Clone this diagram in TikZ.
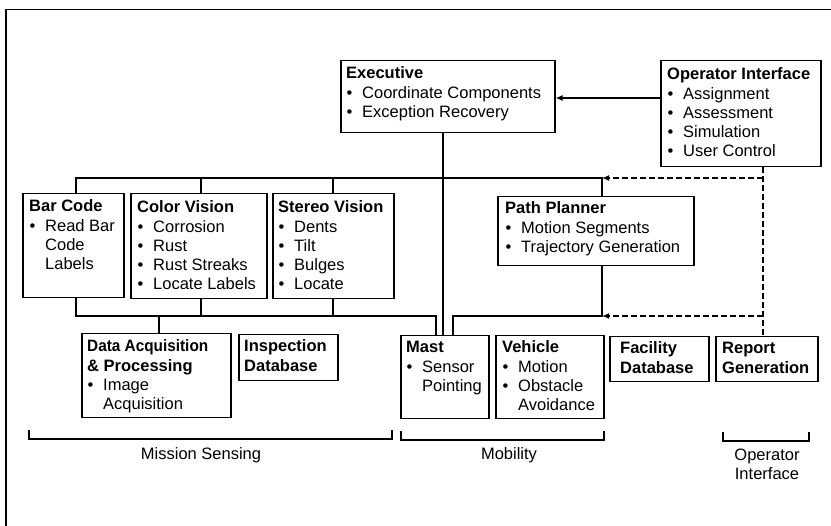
\documentclass[tikz,border=0pt]{standalone}
\usepackage{fontspec}
\setmainfont{Liberation Sans}
\usetikzlibrary{arrows.meta}
\newcommand{\blt}{\makebox[16pt][l]{\hspace{0.5pt}•}}
\newcommand{\ind}{\hspace*{16pt}}
\newcommand{\lns}[1]{\begin{tabular}[t]{@{}l@{}}#1\end{tabular}}
\newcommand{\clns}[1]{\begin{tabular}[t]{@{}c@{}}#1\end{tabular}}
\begin{document}
\begin{tikzpicture}[x=1pt,y=-1pt,
  box/.style={draw, line width=1.5pt, anchor=north west, inner sep=0pt, rectangle},
  txt/.style={anchor=base west, inner sep=0pt, font=\fontsize{16.5}{19.2}\selectfont},
  conn/.style={line width=1.5pt},
  dconn/.style={line width=1.5pt, dash pattern=on 6pt off 3pt},
  tip/.style={-{Latex[length=7pt,width=6pt]}},
  brk/.style={line width=1.5pt},
  lbl/.style={anchor=base, inner sep=0pt, font=\fontsize{16.5}{19}\selectfont}]
\useasboundingbox (0,0) rectangle (831,526);
% frame
\draw[line width=1.2pt] (831,9.5) -- (6,9.5) -- (6,526);

% boxes
\node[box, minimum width=214pt, minimum height=72pt] (exec) at (340,60) {};
\node[box, minimum width=160pt, minimum height=106pt] (oi) at (660,60) {};
\node[box, minimum width=101pt, minimum height=104pt] (barcode) at (22,193) {};
\node[box, minimum width=136pt, minimum height=105pt] (color) at (130,193) {};
\node[box, minimum width=121pt, minimum height=105pt] (stereo) at (272,193) {};
\node[box, minimum width=196pt, minimum height=69pt] (path) at (497,196) {};
\node[box, minimum width=149pt, minimum height=84pt] (daq) at (81,333) {};
\node[box, minimum width=99pt, minimum height=46pt] (insp) at (238,334) {};
\node[box, minimum width=88pt, minimum height=83pt] (mast) at (400,335) {};
\node[box, minimum width=108pt, minimum height=83pt] (vehicle) at (495,335) {};
\node[box, minimum width=99pt, minimum height=45pt] (facility) at (609,336) {};
\node[box, minimum width=102pt, minimum height=45pt] (report) at (715,336) {};

% texts
\node[txt] (exec-t) at (346,79) {\lns{\textbf{Executive}\\\blt Coordinate Components\\\blt Exception Recovery}};
\node[txt] (oi-t) at (667,80) {\lns{\textbf{Operator Interface}\\\blt Assignment\\\blt Assessment\\\blt Simulation\\\blt User Control}};
\node[txt] (barcode-t) at (29,212) {\lns{\textbf{Bar Code}\\\blt Read Bar\\\ind Code\\\ind Labels}};
\node[txt] (color-t) at (137,213) {\lns{\textbf{Color Vision}\\\blt Corrosion\\\blt Rust\\\blt Rust Streaks\\\blt Locate Labels}};
\node[txt] (stereo-t) at (278,213) {\lns{\textbf{Stereo Vision}\\\blt Dents\\\blt Tilt\\\blt Bulges\\\blt Locate}};
\node[txt] (path-t) at (505,214) {\lns{\textbf{Path Planner}\\\blt Motion Segments\\\blt Trajectory Generation}};
\node[txt] (daq-t) at (87,352) {\lns{\textbf{\scalebox{0.93}[1]{Data Acquisition}}\\\textbf{\& Processing}\\\blt Image\\\ind Acquisition}};
\node[txt] (insp-t) at (244,352) {\lns{\textbf{Inspection}\\\textbf{Database}}};
\node[txt] (mast-t) at (406,353) {\lns{\textbf{Mast}\\\blt Sensor\\\ind Pointing}};
\node[txt] (vehicle-t) at (502,353) {\lns{\textbf{Vehicle}\\\blt Motion\\\blt Obstacle\\\ind Avoidance}};
\node[txt] (facility-t) at (620,354) {\lns{\textbf{Facility}\\\textbf{Database}}};
\node[txt] (report-t) at (722,354) {\lns{\textbf{Report}\\\textbf{Generation}}};

% top bus
\coordinate (tbL) at (76,178);
\coordinate (tbC) at (201,178);
\coordinate (tbS) at (333,178);
\coordinate (tbP) at (602,178);
\draw[conn] (tbL |- barcode.north) -- (tbL) -- (tbP) -- (tbP |- path.north);
\draw[conn] (tbC) -- (tbC |- color.north);
\draw[conn] (tbS) -- (tbS |- stereo.north);

% bottom sensing bus
\coordinate (bbL) at (76,316);
\coordinate (bbC) at (201,316);
\coordinate (bbS) at (333,316);
\coordinate (bbD) at (159,316);
\coordinate (bbM) at (436,316);
\draw[conn] (bbL |- barcode.south) -- (bbL) -- (bbM) -- (bbM |- mast.north);
\draw[conn] (bbC |- color.south) -- (bbC);
\draw[conn] (bbS |- stereo.south) -- (bbS);
\draw[conn] (bbD) -- (bbD |- daq.north);

% executive to mast
\coordinate (exX) at (443,0);
\draw[conn] (exec.south -| exX) -- (mast.north -| exX);

% path planner to mast
\coordinate (pp1) at (602,316);
\coordinate (pp2) at (453,316);
\draw[conn] (path.south -| pp1) -- (pp1) -- (pp2) -- (pp2 |- mast.north);

% operator interface to executive
\coordinate (oiY) at (0,98);
\draw[conn, tip] (oi.west |- oiY) -- (exec.east |- oiY);

% dashed links
\coordinate (dv) at (763,0);
\draw[dconn] (oi.south -| dv) -- (report.north -| dv);
\draw[dconn, tip] (dv |- tbP) -- (tbP);
\draw[dconn, tip] (dv |- pp1) -- (pp1);

% brackets
\draw[brk] (29,430) -- (29,439) -- (392,439) -- (392,430);
\draw[brk] (401,431) -- (401,440) -- (604,440) -- (604,431);
\draw[brk] (723,432) -- (723,441) -- (809,441) -- (809,432);
\node[lbl] (ms) at (201,460) {Mission Sensing};
\node[lbl] (mob) at (509,460) {Mobility};
\node[lbl] (oil) at (767,461) {\clns{Operator\\Interface}};
\end{tikzpicture}
\end{document}
